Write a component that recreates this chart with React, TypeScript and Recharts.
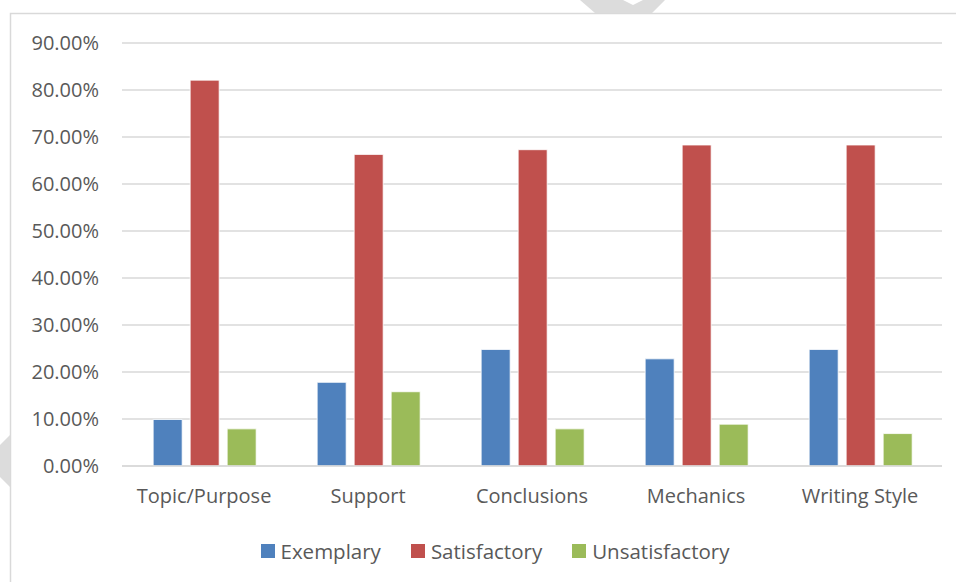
import React from 'react';
import { Bar, BarChart, CartesianGrid, XAxis, YAxis } from 'recharts';

// rubric categories and share of papers per rating (percent)
const categories = ['Topic/Purpose', 'Support', 'Conclusions', 'Mechanics', 'Writing Style'];
const exemplary = [9.9, 17.8, 24.8, 22.8, 24.8];
const satisfactory = [82.1, 66.3, 67.3, 68.3, 68.3];
const unsatisfactory = [7.9, 15.8, 7.9, 8.9, 6.9];
const yTicks = [0, 10, 20, 30, 40, 50, 60, 70, 80, 90];

const series = [
  { key: 'exemplary', label: 'Exemplary', color: '#4F81BD' },
  { key: 'satisfactory', label: 'Satisfactory', color: '#C0504D' },
  { key: 'unsatisfactory', label: 'Unsatisfactory', color: '#9BBB59' },
];

const data = categories.map((name, i) => ({
  name,
  exemplary: exemplary[i],
  satisfactory: satisfactory[i],
  unsatisfactory: unsatisfactory[i],
}));

const FONT = '"Open Sans", sans-serif';
const TEXT = '#595959';
const GRID = '#D9D9D9';

function ChartLegend() {
  return (
    <div
      style={{
        position: 'absolute',
        top: 537,
        left: 0,
        width: 956,
        display: 'flex',
        justifyContent: 'center',
        gap: 30,
        fontFamily: FONT,
        fontSize: 20.5,
        color: TEXT,
        paddingLeft: 34,
        boxSizing: 'border-box',
      }}
    >
      {series.map((s) => (
        <div key={s.key} style={{ display: 'flex', alignItems: 'center', gap: 6 }}>
          <span style={{ width: 14, height: 14, background: s.color, display: 'inline-block' }} />
          <span>{s.label}</span>
        </div>
      ))}
    </div>
  );
}

export default function App() {
  return (
    <div style={{ position: 'absolute', top: 0, left: 0, width: 956, height: 582, background: '#fff', overflow: 'hidden' }}>
      {/* chart frame and the faint marks around it */}
      <svg width={956} height={582} style={{ position: 'absolute', top: 0, left: 0 }}>
        <rect x={10.5} y={13.5} width={960} height={600} fill="none" stroke={GRID} strokeWidth={1.5} />
        <polygon points="580,0 623,0 633,5 643,0 665,0 652,13 595,13" fill="#DCDCDC" />
        <polygon points="0,445 10,435 10,487 0,477" fill="#DCDCDC" />
      </svg>
      <div style={{ position: 'absolute', top: 0, left: 0 }}>
        <BarChart
          width={956}
          height={582}
          data={data}
          margin={{ top: 43, right: 14, bottom: 76, left: 0 }}
          barCategoryGap="19%"
          barGap={8}
        >
          <CartesianGrid vertical={false} stroke={GRID} strokeWidth={1.5} />
          <XAxis
            dataKey="name"
            height={40}
            tickLine={false}
            tickSize={0}
            tickMargin={23}
            axisLine={{ stroke: GRID, strokeWidth: 1.5 }}
            tick={{ fill: TEXT, fontSize: 20, fontFamily: FONT }}
          />
          <YAxis
            width={122}
            domain={[0, 90]}
            ticks={yTicks}
            interval={0}
            axisLine={false}
            tickLine={false}
            tickSize={0}
            tickMargin={23}
            tickFormatter={(v: number) => `${v.toFixed(2)}%`}
            tick={{ fill: TEXT, fontSize: 20, fontFamily: FONT }}
          />
          {series.map((s) => (
            <Bar
              key={s.key}
              dataKey={s.key}
              fill={s.color}
              stroke="#ffffff"
              strokeWidth={0.8}
              isAnimationActive={false}
            />
          ))}
        </BarChart>
      </div>
      <ChartLegend />
    </div>
  );
}
